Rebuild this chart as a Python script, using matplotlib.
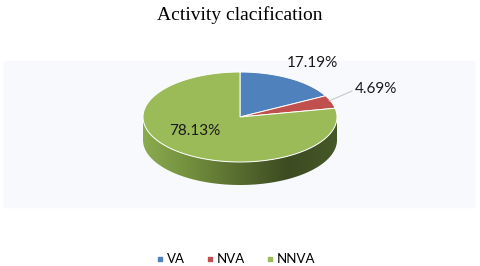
import numpy as np
import matplotlib.pyplot as plt
from matplotlib.colors import LinearSegmentedColormap
from matplotlib.patches import Polygon

labels = ['VA', 'NVA', 'NNVA']
values = [17.19, 4.69, 78.13]
colors = ['#4f81bd', '#c0504d', '#9bbb59']

# geometry of the 3D pie (pixel-like units)
cx, cy = 240, 149
rx, ry = 97, 45
depth = 23

fig = plt.figure(figsize=(4.8, 2.66), dpi=100)
ax = fig.add_axes([0, 0, 1, 1])
ax.set_xlim(0, 480)
ax.set_ylim(0, 266)
ax.axis('off')

# plot area background
ax.add_patch(plt.Rectangle((4, 59), 470, 146, color='#f7f9fc', zorder=0))

fig.text(0.5, 0.945, 'Activity clacification', ha='center', va='center',
         family='Liberation Serif', fontsize=14)


def pt(theta, yoff=0):
    # theta in degrees, clockwise from 12 o'clock
    t = np.radians(theta)
    return cx + rx * np.sin(t), cy + ry * np.cos(t) + yoff


# side (front half, all green) with a horizontal gradient
th = np.linspace(90, 270, 200)
xt, yt = pt(th)
xb, yb = pt(th[::-1], -depth)
side = Polygon(np.column_stack([np.concatenate([xt, xb]), np.concatenate([yt, yb])]),
               closed=True, fc='none', ec='none')
ax.add_patch(side)
side_cmap = LinearSegmentedColormap.from_list(
    'side', ['#8bab4f', '#728e3d', '#566b2e', '#3c4b21', '#465828'])
grad = np.linspace(0, 1, 256).reshape(1, -1)
im = ax.imshow(grad, cmap=side_cmap, aspect='auto', zorder=1,
               extent=[cx - rx, cx + rx, cy - ry - depth - 2, cy + 2])
im.set_clip_path(side)

# top faces
total = sum(values)
start = 0
mids = []
for v, c in zip(values, colors):
    end = start + 360 * v / total
    ts = np.linspace(start, end, 200)
    xs, ys = pt(ts)
    xs = np.concatenate([[cx], xs, [cx]])
    ys = np.concatenate([[cy], ys, [cy]])
    ax.fill(xs, ys, color=c, ec='white', lw=0.7, zorder=2)
    mids.append((start + end) / 2)
    start = end

lab_font = dict(family='Lato', fontsize=11, color='#1a1a1a', zorder=4)
ax.text(312, 203, '17.19%', ha='center', va='center', **lab_font)
ax.text(376, 177, '4.69%', ha='center', va='center', **lab_font)
ax.text(195, 135, '78.13%', ha='center', va='center', **lab_font)
x0, y0 = pt(mids[1])
ax.plot([x0 - 2, 352], [y0 + 1, 175], color='#c8c8c8', lw=0.8, zorder=3)

# legend
for lab, c in zip(labels, colors):
    ax.scatter([], [], marker='s', s=10, color=c, label=lab)
ax.legend(loc='lower center', bbox_to_anchor=(0.49, -0.04), ncol=3, frameon=False,
          prop={'family': 'Lato', 'size': 9.5}, handletextpad=0.1,
          columnspacing=1.5, handlelength=0.8)

fig.savefig('out.png', dpi=100)
